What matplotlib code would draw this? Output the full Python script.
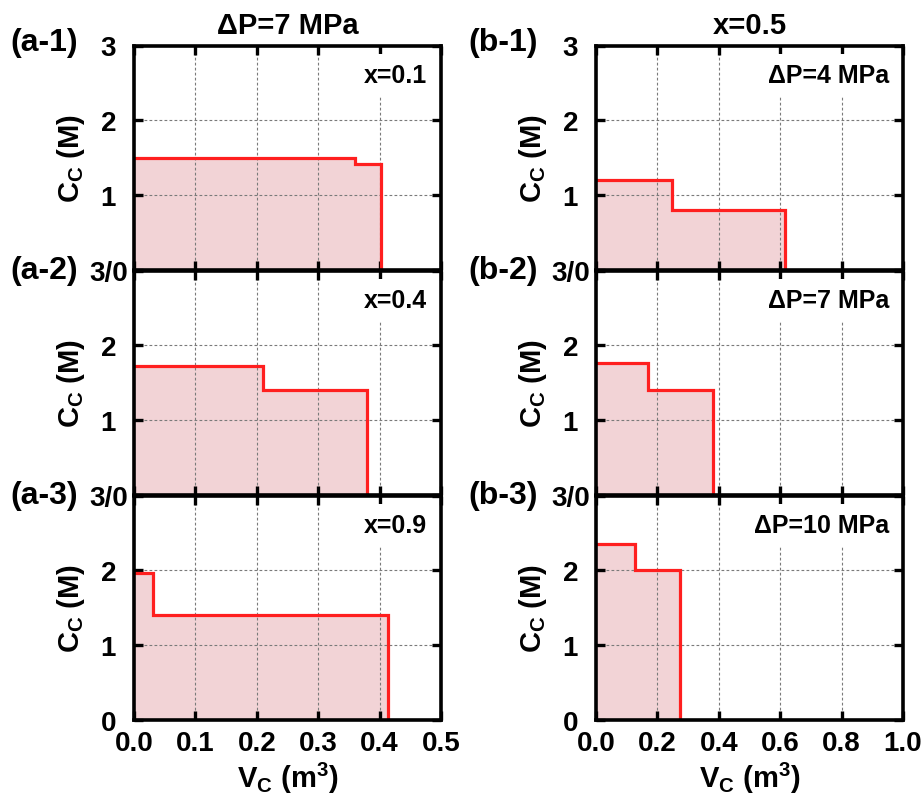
import matplotlib
matplotlib.use('Agg')
import matplotlib.pyplot as plt
import numpy as np

plt.rcParams['font.family'] = ['Liberation Sans', 'DejaVu Sans']
plt.rcParams['font.weight'] = 'bold'
plt.rcParams['mathtext.fontset'] = 'custom'
plt.rcParams['mathtext.rm'] = 'Liberation Sans'
plt.rcParams['mathtext.bf'] = 'Liberation Sans:bold'

# step profiles: break points along V_C and concentration of each step
# column a: dP = 7 MPa, varying x
a_edges = [[0.0, 0.36, 0.403], [0.0, 0.21, 0.38], [0.0, 0.031, 0.413]]
a_levels = [[1.5, 1.41], [1.72, 1.40], [1.97, 1.40]]
a_notes = ['x=0.1', 'x=0.4', 'x=0.9']
# column b: x = 0.5, varying dP
b_edges = [[0.0, 0.248, 0.617], [0.0, 0.168, 0.381], [0.0, 0.127, 0.274]]
b_levels = [[1.2, 0.80], [1.77, 1.40], [2.35, 2.0]]
b_notes = ['ΔP=4 MPa', 'ΔP=7 MPa', 'ΔP=10 MPa']

a_xticks = [0.0, 0.1, 0.2, 0.3, 0.4, 0.5]
b_xticks = [0.0, 0.2, 0.4, 0.6, 0.8, 1.0]
yticks = [0, 1, 2, 3]

line_red = '#ff1f1f'
fill_pink = '#f2d3d6'

fig = plt.figure(figsize=(9.21, 8.04), dpi=100)

W = 307 / 921
H = 224.5 / 804
lefts = [134 / 921, 596 / 921]
bottoms = [(804 - 271) / 804, (804 - 496) / 804, (804 - 721) / 804]
tag_y = [43, 271, 496]

columns = [
    (a_edges, a_levels, a_notes, a_xticks, 'a', 'ΔP=7 MPa'),
    (b_edges, b_levels, b_notes, b_xticks, 'b', 'x=0.5'),
]

for c, (edges, levels, notes, xt, tag, title) in enumerate(columns):
    for r in range(3):
        ax = fig.add_axes([lefts[c], bottoms[r], W, H])
        e = edges[r]
        v = levels[r]
        ax.stairs(v, e, baseline=0, fill=True, color=fill_pink, lw=0, zorder=1)
        xs = [e[0], e[1], e[1], e[2], e[2]]
        ys = [v[0], v[0], v[1], v[1], 0]
        ax.plot(xs, ys, color=line_red, lw=2.3, zorder=2,
                solid_joinstyle='miter')

        ax.set_xlim(xt[0], xt[-1])
        ax.set_ylim(0, 3)
        ax.set_xticks(xt)
        ax.set_yticks(yticks)
        ylabels = ['0' if r == 2 else '3/0', '1', '2', '3' if r == 0 else '']
        ax.set_yticklabels(ylabels)
        if r == 2:
            ax.set_xticklabels(['%.1f' % t for t in xt])
            ax.set_xlabel('V$_{\\rm C}$ (m$^{\\rm 3}$)', fontsize=21,
                          fontweight='bold', labelpad=3)
        else:
            ax.set_xticklabels([])

        ax.tick_params(direction='in', length=6.5, width=2.4, top=True,
                       right=True, labelsize=20, pad=7)
        ax.tick_params(axis='y', pad=18.5)
        for lab in ax.get_yticklabels():
            lab.set_horizontalalignment('center')
        for s in ax.spines.values():
            s.set_linewidth(2.6)
        ax.grid(True, color='#7a7a7a', lw=0.8, linestyle=(0, (2.5, 2)))

        ax.set_ylabel('C$_{\\rm C}$ (M)', fontsize=21, fontweight='bold')
        ax.yaxis.set_label_coords(-0.152, 0.5)

        ax.text(0.954, 0.87, notes[r], transform=ax.transAxes, ha='right',
                va='center', fontsize=18, fontweight='bold', zorder=3,
                bbox=dict(facecolor='white', edgecolor='none', pad=6.5))

        fig.text((10 if c == 0 else 468) / 921, 1 - tag_y[r] / 804,
                 '(%s-%d)' % (tag, r + 1), ha='left', va='center',
                 fontsize=23, fontweight='bold')

    fig.text(lefts[c] + W / 2, 1 - 26 / 804, title, ha='center', va='center',
             fontsize=21, fontweight='bold')

fig.savefig('out.png', dpi=100)
